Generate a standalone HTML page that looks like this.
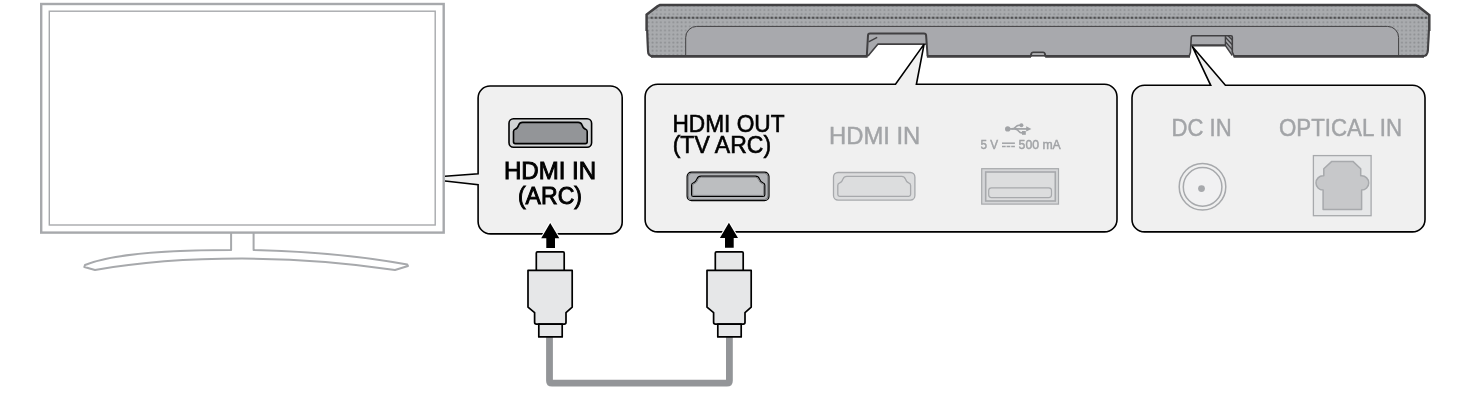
<!DOCTYPE html>
<html><head><meta charset="utf-8">
<style>
html,body{margin:0;padding:0;background:#fff;}
body{width:1465px;height:420px;overflow:hidden;font-family:"Liberation Sans",sans-serif;}
svg{display:block;}
text{font-family:"Liberation Sans",sans-serif;filter:contrast(1.001);}
</style></head><body>
<svg width="1465" height="420" viewBox="0 0 1465 420">
<defs>
<pattern id="mesh" x="650.5" y="7.9" width="4.14" height="4.07" patternUnits="userSpaceOnUse">
<rect width="4.14" height="4.07" fill="#a9abae"/>
<rect x="1.2" y="1.2" width="1.8" height="1.8" rx="0.4" fill="#8e9093"/>
</pattern>
</defs>
<rect width="1465" height="420" fill="#fff"/>

<!-- TV -->
<g fill="none" stroke="#a7a9ac">
<rect x="41.2" y="4" width="402.5" height="228.6" stroke-width="2.4"/>
<rect x="49.3" y="11.2" width="385.9" height="213.8" stroke-width="1.4"/>
<path d="M231.1,233 V250 C190,250 118,251.5 85,265 L84.3,267 L95,270 Q160,258.6 242,258.6 Q320,258.6 395,270 L408,266 L407.3,264.6 Q340,252 253.6,250 V233" stroke-width="2" stroke-linejoin="round"/>
</g>

<!-- TV callout -->
<path d="M490.1,86 H610.4 A11.8,11.8 0 0 1 622.2,97.8 V222 A11.9,11.9 0 0 1 610.3,233.9 H490.6 A12.5,12.5 0 0 1 478.1,221.4 V184.8 L445,181 V176.2 L478.1,173.7 V98 A12,12 0 0 1 490.1,86 Z" fill="#f0f0f0"/>
<path d="M445,176.2 L478.1,173.7 V98 A12,12 0 0 1 490.1,86 H610.4 A11.8,11.8 0 0 1 622.2,97.8 V222 A11.9,11.9 0 0 1 610.3,233.9 H490.6 A12.5,12.5 0 0 1 478.1,221.4 V184.8 L445,181" fill="none" stroke="#000" stroke-width="1.6"/>

<!-- TV HDMI port -->
<g id="hdmiB">
<rect x="509" y="118.8" width="82.6" height="28.4" rx="4.5" fill="#d1d3d4" stroke="#000" stroke-width="1.6"/>
<path d="M522.5,122.4 H578.2 Q581,122.4 582,125 Q583.2,128.6 585.6,129.2 Q587.2,129.7 587.2,131.6 V141.8 Q587.2,143.6 585.4,143.6 H515.3 Q513.5,143.6 513.5,141.8 V131.6 Q513.5,129.7 515.1,129.2 Q517.5,128.6 518.7,125 Q519.7,122.4 522.5,122.4 Z" fill="#939598" stroke="#000" stroke-width="1.6"/>
</g>
<g fill="#000" stroke="#000" stroke-width="0.9" font-size="23" text-anchor="middle">
<text x="550" y="178.9" textLength="92.2" lengthAdjust="spacingAndGlyphs">HDMI IN</text>
<text x="550" y="204" textLength="64.1" lengthAdjust="spacingAndGlyphs">(ARC)</text>
</g>

<!-- Soundbar -->
<g id="bar">
<path d="M660,5 H1415.7 L1430,15 V30 L1428.6,50 Q1428.2,56.3 1423,56.3 H651.5 Q647.4,56.3 647.1,52 L646,30 V14.3 Z" fill="url(#mesh)"/>
<!-- dark dotted row -->
<line x1="647" y1="17.7" x2="1429" y2="17.7" stroke="#8a8c8f" stroke-width="1.9"/>
<line x1="650.7" y1="17.7" x2="1429" y2="17.7" stroke="#505052" stroke-width="1.9" stroke-dasharray="2 2.14"/>
<!-- panel -->
<path d="M685.7,56.3 V37.4 A11,11 0 0 1 696.7,26.4 H1387.6 A11,11 0 0 1 1398.6,37.4 V56.3 Z" fill="#a8a9ad" stroke="#414042" stroke-width="1"/>
<!-- notch openings -->
<path d="M878,44.1 H926.6 L927.7,59 H866 L868,56 Z" fill="#fff"/>
<path d="M1190.6,45.3 H1225.4 L1233,55.5 L1234.3,59 H1188.8 L1189.2,56 Z" fill="#fff"/>
<rect x="1031.6" y="56.4" width="13" height="3" fill="#fff"/>
<!-- notch faces + strokes -->
<g fill="none" stroke="#414042" stroke-linejoin="round" stroke-linecap="butt">
<!-- left notch -->
<path d="M866.8,56.3 L868,35.4 Q868,33.4 870,33.4 H924 Q926,33.4 926.1,35.4 L927.6,56.3" stroke-width="2"/>
<path d="M868,56 L878,44.1 H926.6" stroke-width="1.6"/>
<path d="M868.6,41.9 L877.2,37.3" stroke-width="1.4"/>
<!-- right notch -->
<path d="M1189.2,56.3 L1190.4,52.2 L1191.3,37 Q1191.3,35.7 1192.8,35.7 H1231 Q1232.3,35.7 1232.3,37 V52 L1234.2,56.3" stroke-width="1.6"/>
<path d="M1190.8,45.3 H1225.4" stroke-width="2.2"/>
<path d="M1225.4,35.7 V45.5 L1232.3,55.5" stroke-width="1.4"/>
<path d="M1228,35.7 L1232.3,40 M1225.4,37.3 L1232.3,44.8 M1225.4,41.8 L1232.3,49.6" stroke-width="1.3"/>
<!-- centre bump -->
<path d="M1030.6,56.3 L1031.4,53.6 Q1031.8,52.4 1033,52.4 H1043.2 Q1044.4,52.4 1044.8,53.6 L1045.6,56.3" stroke-width="1.9"/>
<path d="M1032.4,54.1 H1043.8" stroke-width="1" stroke="#c9cacc"/>
<path d="M1030.8,55.65 H1045.4" stroke-width="1.5"/>
<!-- outer outline -->
<path d="M646.6,31 V14.6 L657.4,6.4 L660,5 H1415.7 L1418.3,6.4 L1429.3,15 V31" stroke-width="2.5" stroke-linejoin="miter"/>
<path d="M647.2,30 L648,51.2 Q648.3,56.3 653,56.3 M1428.9,30 L1427.9,50.5 Q1427.5,56.3 1422.5,56.3" stroke-width="2.1"/>
<path d="M651,56.4 H867.6 M926.9,56.4 H1031 M1045.2,56.4 H1190 M1233.6,56.4 H1424" stroke-width="2.8"/>
</g>
</g>
<!-- Main callout -->
<path d="M657.6,84.3 H895.5 L924.1,44.1 L916.4,84.3 H1104.5 A12.5,12.5 0 0 1 1117,96.8 V219.4 A12.5,12.5 0 0 1 1104.5,231.9 H657.6 A12.5,12.5 0 0 1 645.1,219.4 V96.8 A12.5,12.5 0 0 1 657.6,84.3 Z" fill="#f0f0f0" stroke="#000" stroke-width="1.6" stroke-linejoin="miter"/>

<!-- Right callout -->
<path d="M1144.5,85.3 H1210.7 L1192.3,46.4 L1225.4,85.3 H1412.5 A12.5,12.5 0 0 1 1425,97.8 V219.4 A12.5,12.5 0 0 1 1412.5,231.9 H1144.5 A12.5,12.5 0 0 1 1132,219.4 V97.8 A12.5,12.5 0 0 1 1144.5,85.3 Z" fill="#f0f0f0" stroke="#000" stroke-width="1.6"/>

<!-- HDMI OUT port (active) -->
<g>
<rect x="687.1" y="172.1" width="81.9" height="28.6" rx="4.5" fill="#b1b3b6" stroke="#000" stroke-width="1.2"/>
<rect x="688.2" y="173.2" width="79.7" height="26.4" rx="3.6" fill="none" stroke="#6d6e71" stroke-width="0.9"/>
<path d="M701,176.1 H755.4 Q758.4,176.1 759.4,178.9 Q760.6,182.2 763.2,183 Q764.8,183.5 764.8,185.3 V194.7 Q764.8,196.5 763,196.5 H693.4 Q691.6,196.5 691.6,194.7 V185.3 Q691.6,183.5 693.2,183 Q695.8,182.2 697,178.9 Q698,176.1 701,176.1 Z" fill="#bcbec0" stroke="#000" stroke-width="1.2"/>
<path d="M701.2,177.2 H755.2 Q757.5,177.2 758.3,179.4 Q759.7,183.1 762.7,184 Q763.7,184.4 763.7,185.5 V194.4 Q763.7,195.4 762.7,195.4 H693.7 Q692.7,195.4 692.7,194.4 V185.5 Q692.7,184.4 693.7,184 Q696.7,183.1 698.1,179.4 Q698.9,177.2 701.2,177.2 Z" fill="none" stroke="#77787b" stroke-width="0.9"/>
</g>
<g fill="#000" stroke="#000" stroke-width="0.6" font-size="23">
<text x="672.5" y="131.7" textLength="112" lengthAdjust="spacingAndGlyphs">HDMI OUT</text>
<text x="672.7" y="153" textLength="98.4" lengthAdjust="spacingAndGlyphs">(TV ARC)</text>
</g>

<!-- HDMI IN (inactive) -->
<text x="829" y="143.7" font-size="23.6" fill="#a2a4a7" stroke="#a2a4a7" stroke-width="0.45" textLength="91.3" lengthAdjust="spacingAndGlyphs">HDMI IN</text>
<g>
<rect x="833.5" y="172.5" width="81.4" height="27.6" rx="4.5" fill="#dcddde" stroke="#a7a9ac" stroke-width="1.3"/>
<path d="M846.8,176.3 H901.6 Q904.4,176.3 905.4,178.9 Q906.6,182.5 909,183.1 Q910.6,183.6 910.6,185.5 V194.6 Q910.6,196.4 908.8,196.4 H839.6 Q837.8,196.4 837.8,194.6 V185.5 Q837.8,183.6 839.4,183.1 Q841.8,182.5 843,178.9 Q844,176.3 846.8,176.3 Z" fill="#dcddde" stroke="#a7a9ac" stroke-width="1.3"/>
</g>

<!-- USB -->
<g fill="#a1a3a6" stroke="none">
<circle cx="1007.7" cy="128.9" r="2.7"/>
<path d="M1007.7,128.9 H1027.5" stroke="#a1a3a6" stroke-width="1.7" fill="none"/>
<path d="M1026.2,126.2 L1031.4,128.9 L1026.2,131.6 Z"/>
<path d="M1011.5,128.9 Q1014.2,128.9 1015.7,127 Q1017.2,125.2 1019.2,125.2 H1021" stroke="#a1a3a6" stroke-width="1.6" fill="none"/>
<circle cx="1021.4" cy="125.2" r="2"/>
<path d="M1014.5,128.9 Q1017,128.9 1018.5,131 Q1020,132.9 1022,132.9 H1023" stroke="#a1a3a6" stroke-width="1.6" fill="none"/>
<rect x="1022" y="131" width="3.8" height="3.8"/>
</g>
<g fill="#a1a3a6" stroke="#a1a3a6" stroke-width="0.45" font-size="12.3">
<text x="980.6" y="148.8" textLength="17.6" lengthAdjust="spacingAndGlyphs">5 V</text>
<text x="1018.6" y="148.8" textLength="42.2" lengthAdjust="spacingAndGlyphs">500 mA</text>
</g>
<g stroke="#a1a3a6" stroke-width="1.5" fill="none">
<path d="M1002,143.2 H1014.9"/>
<path d="M1002,146.6 H1014.9" stroke-dasharray="3.7 0.9"/>
</g>
<g stroke="#a7a9ac" fill="#d5d6d8">
<rect x="981.7" y="168.7" width="76.8" height="35.4" stroke-width="1.2"/>
<rect x="985.7" y="172" width="69.6" height="29" fill="#dcddde" stroke-width="1.6"/>
<rect x="988.7" y="187.8" width="62.8" height="9.8" rx="2.8" fill="#dcddde" stroke-width="1.2"/>
</g>

<!-- DC IN -->
<text x="1171.6" y="136.3" font-size="23.6" fill="#a2a4a7" stroke="#a2a4a7" stroke-width="0.45" textLength="60.1" lengthAdjust="spacingAndGlyphs">DC IN</text>
<g stroke="#a7a9ac" stroke-width="1.5" fill="none">
<circle cx="1202.5" cy="186.8" r="23.3"/>
<circle cx="1202.6" cy="186.9" r="19.3" fill="#f1f1f2"/>
</g>
<circle cx="1201.5" cy="188.6" r="3.4" fill="#a7a9ac"/>

<!-- OPTICAL IN -->
<text x="1279" y="135.7" font-size="23.6" fill="#a2a4a7" stroke="#a2a4a7" stroke-width="0.45" textLength="123" lengthAdjust="spacingAndGlyphs">OPTICAL IN</text>
<rect x="1313.4" y="155.6" width="57.7" height="60.1" fill="#e6e7e8" stroke="#a7a9ac" stroke-width="1.3"/>
<path d="M1331.8,161.4 H1352.9 L1360.7,168.8 V175.8 H1361.6 A7.1,7.1 0 0 1 1361.6,190 V209.4 H1323.1 V190 A7.1,7.1 0 0 1 1323.1,175.8 H1323.8 V168.8 Z" fill="#c7c8ca" stroke="#a7a9ac" stroke-width="1.5" stroke-linejoin="round"/>

<!-- cable -->
<path d="M549.5,337 V380.7 Q549.5,383.2 552,383.2 H726.9 Q729.4,383.2 729.4,380.7 V337" fill="none" stroke="#939598" stroke-width="6.8" stroke-linejoin="round"/>

<!-- connectors -->
<g id="conn" fill="#e6e7e8" stroke="#000" stroke-width="1.7" stroke-linejoin="round">
<path d="M536.3,270.4 V253 Q536.3,251.8 537.5,251.8 H563 Q564.2,251.8 564.2,253 V270.4"/>
<path d="M528,270.4 H572.2 V307.2 L566,312.6 V322.3 Q566,324.2 564.2,324.2 H536.4 Q534.6,324.2 534.6,322.3 V312.6 L528,307.2 Z"/>
<rect x="538.8" y="324.2" width="23.4" height="12.7"/>
</g>
<use href="#conn" x="179"/>

<!-- arrows -->
<g id="arr">
<path d="M550.2,223 L559.3,238.3 H555 V248 H546.3 V238.3 H541.2 Z" fill="#000" stroke="#fff" stroke-width="2.2" stroke-linejoin="miter" paint-order="stroke"/>
</g>
<use href="#arr" x="178.7" y="-0.3"/>
</svg>
</body></html>
